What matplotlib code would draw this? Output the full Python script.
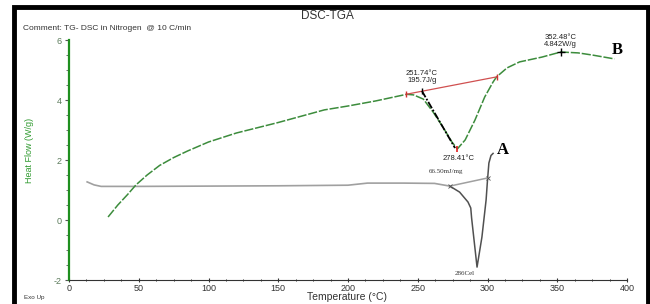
import matplotlib
matplotlib.use("Agg")
import matplotlib.pyplot as plt
from matplotlib.patches import Rectangle
from matplotlib.ticker import MultipleLocator

plt.rcParams['font.family'] = ['Liberation Sans', 'DejaVu Sans']
plt.rcParams['axes.unicode_minus'] = False

# DSC heat-flow curve (green)
dsc_T = [28, 35, 42, 48, 56, 65, 75, 85, 100, 120, 150, 183, 200, 220, 242,
         247, 254, 261, 268, 274.5, 278.4, 284, 291, 298, 304, 306.5, 314,
         323, 339, 352.5, 365, 375, 391]
dsc_H = [0.1, 0.5, 0.85, 1.17, 1.5, 1.82, 2.08, 2.3, 2.6, 2.9, 3.25, 3.67,
         3.8, 3.97, 4.19, 4.17, 4.03, 3.6, 3.1, 2.6, 2.37, 2.67, 3.33, 4.1,
         4.6, 4.77, 5.07, 5.27, 5.43, 5.6, 5.57, 5.5, 5.37]

# TGA-derived curve (grey)
tga_T = [13, 18, 23, 50, 100, 150, 200, 214, 240, 262, 273, 280, 286, 288,
         288.6, 292.5, 296, 299, 300, 301, 302.5, 304]
tga_H = [1.27, 1.17, 1.12, 1.12, 1.13, 1.14, 1.16, 1.23, 1.23, 1.22, 1.13,
         0.93, 0.6, 0.4, 0.07, -1.57, -0.57, 0.67, 1.33, 1.9, 2.15, 2.22]

# Construction lines
base_T = [241.6, 306.5]
base_H = [4.19, 4.77]
onset_T = [253, 276.7]
onset_H = [4.3, 2.4]
tga_base_T = [273, 300]
tga_base_H = [1.13, 1.4]

peak_T, peak_H = 352.5, 5.6
min_T, min_H = 278.4, 2.37

x_ticks = [0, 50, 100, 150, 200, 250, 300, 350, 400]
y_ticks = [-2, 0, 2, 4, 6]

fig = plt.figure(figsize=(6.5, 3.04), dpi=100)
ax = fig.add_axes([69/650, 24/304, 558/650, 240/304])
ax.set_xlim(0, 400)
ax.set_ylim(-2, 6)

green = '#3c8c3c'
ax.plot(dsc_T, dsc_H, color=green, lw=1.1, ls=(0, (6, 1.2)), zorder=3)
ax.plot(tga_T[:11], tga_H[:11], color='#a0a0a0', lw=1.2, zorder=2)
ax.plot(tga_T[10:], tga_H[10:], color='#505050', lw=1.1, zorder=2)
ax.plot(tga_base_T, tga_base_H, color='#a0a0a0', lw=1.1, zorder=2)
ax.plot(base_T, base_H, color='#d05050', lw=0.9, zorder=4)
ax.plot(onset_T, onset_H, color='black', lw=1.3, ls=(0, (4, 1, 1, 1)), zorder=4)
ax.plot(base_T, base_H, ls='none', marker='|', ms=5, mew=1.0, color='#d03030', zorder=5)
ax.plot([onset_T[0]], [onset_H[0]], ls='none', marker='|', ms=5, mew=1.0, color='black', zorder=5)
ax.plot([min_T], [min_H], ls='none', marker='|', ms=5, mew=1.2, color='#e02020', zorder=5)
ax.plot([peak_T], [peak_H], ls='none', marker='+', ms=6, mew=1.0, color='black', zorder=5)
ax.plot(tga_base_T, tga_base_H, ls='none', marker='x', ms=2.5, mew=0.6, color='#505050', zorder=5)

tfs = 5.5
ax.text(253, 4.55, '251.74°C\n195.7J/g', fontsize=tfs, color='#222222',
        ha='center', va='bottom', linespacing=0.9)
ax.text(min_T + 1, 2.05, '278.41°C', fontsize=tfs, color='#222222',
        ha='center', va='center')
ax.text(peak_T, 5.75, '352.48°C\n4.842W/g', fontsize=tfs, color='#222222',
        ha='center', va='bottom', linespacing=0.9)
ax.text(270, 1.6, '66.50mJ/mg', fontsize=5, color='#333333',
        ha='center', va='center', family=['Liberation Serif', 'DejaVu Serif'])
ax.text(284, -1.78, '286Cel', fontsize=5, color='#333333',
        ha='center', va='center', family=['Liberation Serif', 'DejaVu Serif'])
ax.text(311, 2.35, 'A', fontsize=12, fontweight='bold', color='black',
        ha='center', va='center', family=['Liberation Serif', 'DejaVu Serif'])
ax.text(393, 5.65, 'B', fontsize=12, fontweight='bold', color='black',
        ha='center', va='center', family=['Liberation Serif', 'DejaVu Serif'])

for s in ['top', 'right']:
    ax.spines[s].set_visible(False)
ax.spines['left'].set_color('#1f8f1f')
ax.spines['left'].set_linewidth(1.6)
ax.spines['bottom'].set_color('#333333')
ax.spines['bottom'].set_linewidth(0.8)

ax.set_xticks(x_ticks)
ax.set_yticks(y_ticks)
ax.xaxis.set_minor_locator(MultipleLocator(12.5))
ax.yaxis.set_minor_locator(MultipleLocator(0.5))
ax.tick_params(axis='x', which='major', length=3, width=0.8, colors='#333333',
               labelsize=6.5, pad=1.5, direction='inout')
ax.tick_params(axis='x', which='minor', length=2, width=0.7, color='#333333', direction='inout')
ax.tick_params(axis='y', which='major', length=3, width=0.8, color='#555555',
               labelcolor='#5a7a5a', labelsize=6.5, pad=2)
ax.tick_params(axis='y', which='minor', length=2, width=0.6, color='#555555')

fig.text(327/650, 1 - 16/304, 'DSC-TGA', fontsize=8.5, color='#333333',
         ha='center', va='center')
fig.text(23/650, 1 - 29/304, 'Comment: TG- DSC in Nitrogen  @ 10 C/min',
         fontsize=6, color='#333333', ha='left', va='center')
fig.text(30/650, 1 - 150/304, 'Heat Flow (W/g)', fontsize=6.5, color='#2f9a2f',
         rotation=90, ha='center', va='center')
fig.text(347/650, 1 - 297/304, 'Temperature (°C)', fontsize=7.5, color='#333333',
         ha='center', va='center')
fig.text(24/650, 1 - 297/304, 'Exo Up', fontsize=4.5, color='#333333',
         ha='left', va='center')

fig.patches.append(Rectangle((14/650, -0.05), 634/650, 1.05 - 7/304,
                             transform=fig.transFigure, fill=False,
                             edgecolor='black', linewidth=3.5, zorder=10))

fig.savefig('out.png', dpi=100)
